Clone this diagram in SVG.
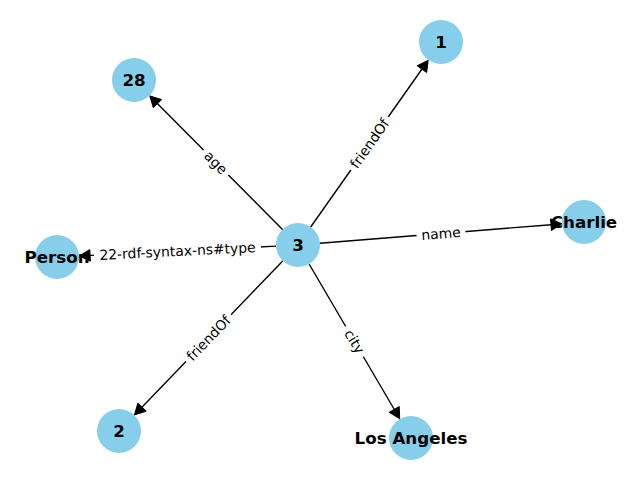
<svg xmlns="http://www.w3.org/2000/svg" width="640" height="480" viewBox="0 0 640 480">
<style>
.node{fill:#87CEEB;stroke:none}
.nl{font-family:"DejaVu Sans",sans-serif;font-weight:bold;font-size:16.7px;fill:#000;text-anchor:middle;dominant-baseline:central}
.edge{stroke:#000;stroke-width:1.39;fill:none;marker-end:url(#ah)}
.el{font-family:"DejaVu Sans",sans-serif;font-size:13.9px;fill:#000;text-anchor:middle;dominant-baseline:central}
.lb{fill:#fff;stroke:#fff}
</style>
<defs>
<marker id="ah" markerUnits="userSpaceOnUse" markerWidth="14" markerHeight="14" viewBox="0 -7 14 14" refX="0" refY="0" orient="auto" overflow="visible">
<path d="M0,-5.6 L10.5,0 L0,5.6 z" fill="#000" stroke="#000" stroke-width="1.2" stroke-linejoin="round"/>
</marker>
</defs>
<rect width="640" height="480" fill="#fff"/>
<g id="nodes-bg">
<g id="n3"><circle class="node" cx="298" cy="245" r="22"/></g>
<g id="n1"><circle class="node" cx="441" cy="42" r="22"/></g>
<g id="n28"><circle class="node" cx="134" cy="80" r="22"/></g>
<g id="nCharlie"><circle class="node" cx="584" cy="222" r="22"/></g>
<g id="nPerson"><circle class="node" cx="57" cy="257" r="22"/></g>
<g id="n2"><circle class="node" cx="119" cy="431" r="22"/></g>
<g id="nLA"><circle class="node" cx="411" cy="438" r="22"/></g>
</g>
<g id="connectors">
<path class="edge" d="M310.7,227.0 L422.0,69.0"/>
<path class="edge" d="M282.5,229.4 L157.3,103.4"/>
<path class="edge" d="M319.9,243.2 L551.1,224.7"/>
<path class="edge" d="M276.0,246.1 L90.0,255.4"/>
<path class="edge" d="M282.7,260.9 L141.9,407.2"/>
<path class="edge" d="M309.1,264.0 L394.3,409.5"/>
<g transform="translate(369.5,143.5) rotate(-54.8)"><rect class="lb" x="-32" y="-11" width="64" height="22" rx="4"/><text class="el" x="0" y="0">friendOf</text></g>
<g transform="translate(216,162.5) rotate(45.2)"><rect class="lb" x="-17" y="-11" width="34" height="22" rx="4"/><text class="el" x="0" y="0">age</text></g>
<g transform="translate(441,233.5) rotate(-4.6)"><rect class="lb" x="-24" y="-11" width="48" height="22" rx="4"/><text class="el" x="0" y="0">name</text></g>
<g transform="translate(177.5,251) rotate(-2.85)"><rect class="lb" x="-83" y="-11" width="166" height="22" rx="4"/><text class="el" x="0" y="0">22-rdf-syntax-ns#type</text></g>
<g transform="translate(208.5,338) rotate(-46.1)"><rect class="lb" x="-32" y="-11" width="64" height="22" rx="4"/><text class="el" x="0" y="0">friendOf</text></g>
<g transform="translate(354.5,341.5) rotate(59.6)"><rect class="lb" x="-17" y="-11" width="34" height="22" rx="4"/><text class="el" x="0" y="0">city</text></g>
</g>
<g id="node-labels">
<text class="nl" x="298" y="245">3</text>
<text class="nl" x="441" y="42">1</text>
<text class="nl" x="134" y="80">28</text>
<text class="nl" x="584" y="222">Charlie</text>
<text class="nl" x="57" y="257">Person</text>
<text class="nl" x="119" y="431">2</text>
<text class="nl" x="411" y="438">Los Angeles</text>
</g>
</svg>
